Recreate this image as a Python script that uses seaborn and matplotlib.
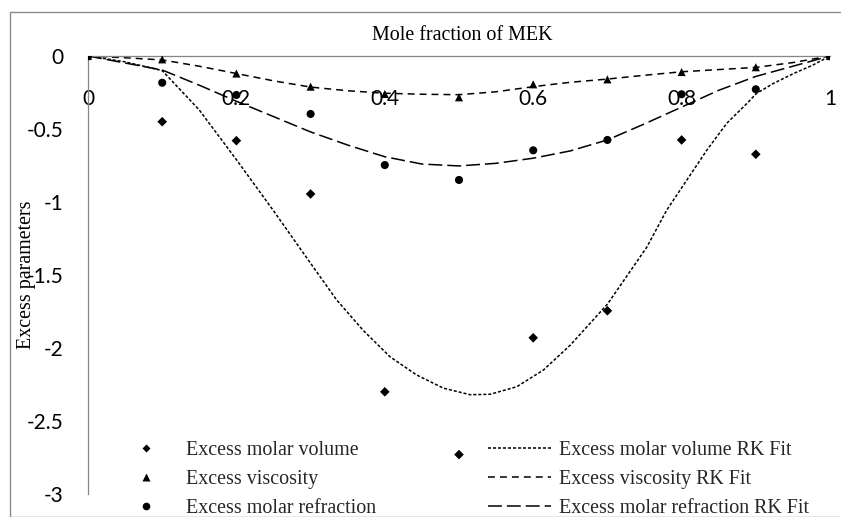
import matplotlib
matplotlib.use("Agg")
import matplotlib.pyplot as plt
from matplotlib.lines import Line2D
from matplotlib.patches import Rectangle
import pandas as pd
import seaborn as sns

# Measured excess properties against mole fraction of MEK
x_mole = [0.0, 0.1, 0.2, 0.3, 0.4, 0.5, 0.6, 0.7, 0.8, 0.9, 1.0]
vol_excess = [0.0, -0.45, -0.58, -0.945, -2.30, -2.73, -1.93, -1.745, -0.575, -0.673, 0.0]
visc_excess = [0.0, -0.023, -0.12, -0.21, -0.26, -0.283, -0.194, -0.16, -0.11, -0.077, 0.0]
refr_excess = [0.0, -0.183, -0.267, -0.397, -0.747, -0.849, -0.646, -0.575, -0.262, -0.228, 0.0]

# Redlich-Kister fitted curves
vol_fit_x = [0.0, 0.05, 0.1, 0.15, 0.2, 0.25, 0.3, 0.335, 0.371, 0.407, 0.443, 0.479,
             0.515, 0.542, 0.578, 0.614, 0.65, 0.7, 0.753, 0.78, 0.807, 0.834, 0.861,
             0.888, 0.901, 0.924, 0.951, 0.977, 1.0]
vol_fit = [0.0, -0.04, -0.10, -0.37, -0.71, -1.06, -1.42, -1.67, -1.88, -2.06, -2.185, -2.275,
           -2.32, -2.317, -2.265, -2.15, -1.98, -1.70, -1.31, -1.055, -0.85, -0.645, -0.46,
           -0.325, -0.256, -0.187, -0.12, -0.062, 0.0]

x_fit = [0.0, 0.05, 0.1, 0.15, 0.2, 0.25, 0.3, 0.35, 0.4, 0.45, 0.5,
         0.55, 0.6, 0.65, 0.7, 0.75, 0.8, 0.85, 0.9, 0.95, 1.0]
visc_fit = [0.0, -0.012, -0.027, -0.07, -0.12, -0.17, -0.213, -0.238, -0.255, -0.262, -0.265,
            -0.245, -0.21, -0.18, -0.158, -0.132, -0.108, -0.093, -0.078, -0.045, 0.0]
refr_fit = [0.0, -0.048, -0.096, -0.20, -0.31, -0.415, -0.52, -0.61, -0.69, -0.74, -0.753,
            -0.735, -0.70, -0.65, -0.575, -0.465, -0.35, -0.235, -0.14, -0.07, 0.0]

series_names = ["Excess molar volume", "Excess viscosity", "Excess molar refraction"]
fit_names = [n + " RK Fit" for n in series_names]

x_ticks = [0.0, 0.2, 0.4, 0.6, 0.8, 1.0]
x_tick_labels = ["0", "0.2", "0.4", "0.6", "0.8", "1"]
y_ticks = [0.0, -0.5, -1.0, -1.5, -2.0, -2.5, -3.0]
y_tick_labels = ["0", "-0.5", "-1", "-1.5", "-2", "-2.5", "-3"]

sns.set_style("white")
plt.rcParams["lines.scale_dashes"] = False
plt.rcParams["font.family"] = ["Liberation Serif", "DejaVu Serif"]

W, H = 841, 517
fig = plt.figure(figsize=(W / 100, H / 100), dpi=100)
fig.patch.set_facecolor("white")

# chart-area border
fig.add_artist(Rectangle((10 / W, 0), (W + 20) / W, 1 - 12 / H, transform=fig.transFigure,
                         fill=False, edgecolor="#8c8c8c", linewidth=1.0))

ax = fig.add_axes([88 / W, 1 - 494 / H, (830 - 88) / W, (494 - 56) / H])
ax.set_facecolor("none")

grey = "#868686"
marker_style = [("D", 24), ("^", 34), ("o", 34)]
for vals, (mk, s) in zip([vol_excess, visc_excess, refr_excess], marker_style):
    df = pd.DataFrame({"x": x_mole, "y": vals})
    sns.scatterplot(data=df, x="x", y="y", marker=mk, s=s, color="black",
                    edgecolor="none", ax=ax, legend=False, zorder=3)

dash_styles = [(2.2, 1.4), (5.0, 3.6), (10.0, 3.6)]
fit_curves = [(vol_fit_x, vol_fit), (x_fit, visc_fit), (x_fit, refr_fit)]
for (xs, ys), dsh in zip(fit_curves, dash_styles):
    df = pd.DataFrame({"x": xs, "y": ys})
    sns.lineplot(data=df, x="x", y="y", color="black", lw=1.1, ax=ax,
                 estimator=None, sort=False, legend=False)
    ax.lines[-1].set_dashes(dsh)
    ax.lines[-1].set_solid_joinstyle("round")
    ax.lines[-1].set_dash_joinstyle("round")

ax.set_xlim(0, 1)
ax.set_ylim(-3, 0)

for side in ["top", "right"]:
    ax.spines[side].set_visible(False)
ax.spines["bottom"].set_position(("data", 0))
for side in ["left", "bottom"]:
    ax.spines[side].set_color(grey)
    ax.spines[side].set_linewidth(0.9)

ax.set_xticks(x_ticks)
ax.set_xticklabels(x_tick_labels)
ax.set_yticks(y_ticks)
ax.set_yticklabels(y_tick_labels)
ax.tick_params(axis="x", direction="out", length=5, width=0.9, color=grey, pad=19,
               labelsize=15, labelcolor="black")
ax.tick_params(axis="y", direction="out", length=5.5, width=0.9, color=grey, pad=12,
               labelsize=15, labelcolor="black")
for lab in ax.get_xticklabels() + ax.get_yticklabels():
    lab.set_fontfamily(["Lato", "DejaVu Sans"])

ax.set_xlabel("Mole fraction of MEK", fontsize=14.4, color="black", va="center")
ax.xaxis.set_label_coords((462 - 88) / 742, (494 - 35) / 438)
ax.set_ylabel("Excess parameters", fontsize=14.4, color="black", va="center")
ax.yaxis.set_label_coords((26.5 - 88) / 742, 0.5)

handles = [
    Line2D([], [], ls="none", marker="D", ms=4.0, color="black", mec="none"),
    Line2D([], [], ls="none", marker="^", ms=5.5, color="black", mec="none"),
    Line2D([], [], ls="none", marker="o", ms=5.5, color="black", mec="none"),
]
for dsh in dash_styles:
    ln = Line2D([], [], color="black", lw=1.1)
    ln.set_dashes(dsh)
    handles.append(ln)

ax.legend(handles, series_names + fit_names, ncol=2, frameon=False,
          loc="upper left", bbox_to_anchor=(114.5 / W, 1 - 441 / H),
          bbox_transform=fig.transFigure, borderpad=0, borderaxespad=0,
          fontsize=14.4, handlelength=3.15, handletextpad=0.4,
          columnspacing=5.6, labelspacing=0.5)

fig.savefig("out.png", dpi=100, facecolor="white")
